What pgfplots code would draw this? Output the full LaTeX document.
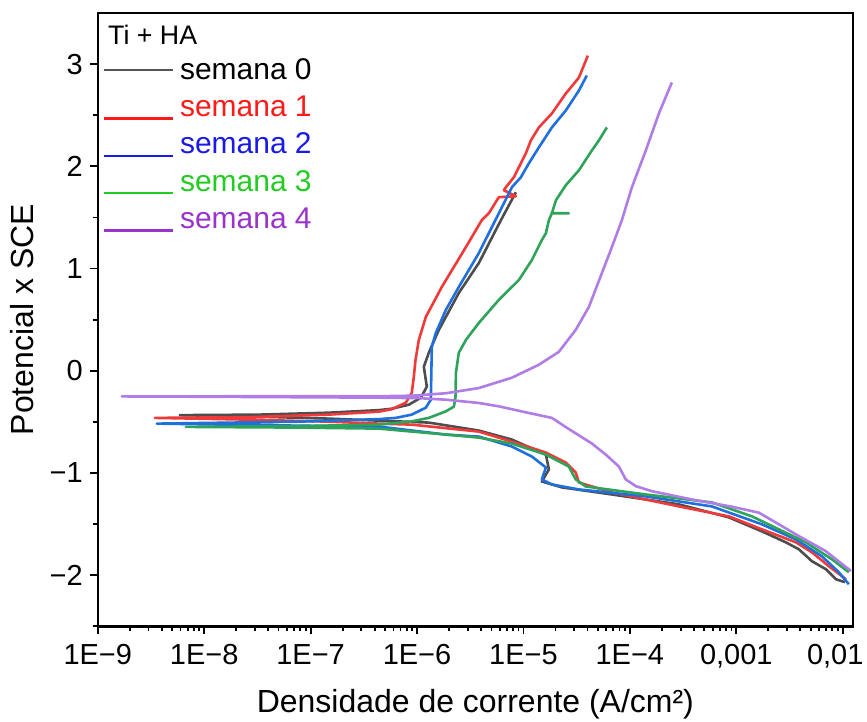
\documentclass[border=0pt]{standalone}
\usepackage{fontspec}
\setmainfont{Liberation Sans}
\usepackage{pgfplots}
\pgfplotsset{compat=1.18}
\definecolor{pc0}{HTML}{4D4D4D}
\definecolor{pc1}{HTML}{F03A3A}
\definecolor{pc2}{HTML}{1F6FDD}
\definecolor{pc3}{HTML}{2EA35A}
\definecolor{pc4}{HTML}{B07CE6}
\definecolor{lc0}{HTML}{555555}
\definecolor{lc1}{HTML}{FF1A1A}
\definecolor{lc2}{HTML}{1A1AE6}
\definecolor{lc3}{HTML}{22CC22}
\definecolor{lc4}{HTML}{9933CC}
\begin{document}
\begin{tikzpicture}
\begin{axis}[
  scale only axis, width=378pt, height=307pt,
  xmode=log, xmin=1e-9, xmax=1.25e-2, ymin=-2.5, ymax=3.5,
  xtick={1e-9,1e-8,1e-7,1e-6,1e-5,1e-4,1e-3,1e-2},
  xticklabels={1E−9,1E−8,1E−7,1E−6,1E−5,1E−4,{0,001},{\hspace*{-7.5pt}0,01}},
  minor xtick={2e-9,3e-9,4e-9,5e-9,6e-9,7e-9,8e-9,9e-9,
               2e-8,3e-8,4e-8,5e-8,6e-8,7e-8,8e-8,9e-8,
               2e-7,3e-7,4e-7,5e-7,6e-7,7e-7,8e-7,9e-7,
               2e-6,3e-6,4e-6,5e-6,6e-6,7e-6,8e-6,9e-6,
               2e-5,3e-5,4e-5,5e-5,6e-5,7e-5,8e-5,9e-5,
               2e-4,3e-4,4e-4,5e-4,6e-4,7e-4,8e-4,9e-4,
               2e-3,3e-3,4e-3,5e-3,6e-3,7e-3,8e-3,9e-3},
  ytick={-2,-1,0,1,2,3}, yticklabels={−2,−1,0,1,2,3},
  minor ytick={-2.5,-1.5,-0.5,0.5,1.5,2.5},
  tick pos=left, tick align=outside,
  major tick length=4pt, minor tick length=2.5pt,
  every tick/.style={black, line width=0.9pt},
  axis line style={line width=1.2pt},
  ticklabel style={font=\fontsize{14.5}{17}\selectfont},
  xticklabel style={inner xsep=0pt, yshift=-1.5pt},
  xlabel={Densidade de corrente (A/cm²)},
  ylabel={Potencial x SCE},
  xlabel style={at={(axis description cs:0.5,-0.09935)}, anchor=north,
    inner ysep=1pt, font=\fontsize{16}{19}\selectfont},
  ylabel style={at={(axis description cs:-0.07143,0.5)}, anchor=south,
    inner ysep=5pt, inner xsep=0pt, font=\fontsize{16}{19}\selectfont},
  legend style={draw=none, fill=none, at={(0,1)}, anchor=north west,
    xshift=2.75pt, yshift=-21pt, inner sep=0pt, row sep=3.75pt,
    font=\fontsize{15}{18}\selectfont,
    nodes={inner xsep=3.75pt, inner ysep=1.5pt}},
  legend cell align=left,
]
\addplot[color=pc0, line width=1.3pt, line join=round,
  legend image code/.code={\path[draw=none, fill=none] (0pt,0pt) -- (34.5pt,0pt);
    \draw[overlay, color=lc0, line width=1.2pt] (0pt,0pt) -- (34.5pt,0pt);}]
coordinates {
(1.049e-2,-2.068) (8.63e-3,-2.039) (6.95e-3,-1.941) (5.14e-3,-1.863) (3.873e-3,-1.746) (2.92e-3,-1.678) (1.742e-3,-1.571) (8.51e-4,-1.434) (2.89e-4,-1.307) (6.78e-5,-1.210) (2.30e-5,-1.141) (1.489e-5,-1.083) (1.734e-5,-0.966) (1.626e-5,-0.820) (7.78e-6,-0.673) (3.81e-6,-0.585) (1.29e-6,-0.507) (4.38e-7,-0.488) (1.483e-7,-0.468) (3.26e-8,-0.449) (5.90e-9,-0.434) (3.26e-8,-0.429) (1.483e-7,-0.410) (4.38e-7,-0.385) (5.79e-7,-0.371) (8.37e-7,-0.332) (1.086e-6,-0.263) (1.236e-6,-0.156) (1.159e-6,0.039) (1.29e-6,0.176) (1.603e-6,0.400) (2.47e-6,0.761) (3.81e-6,1.054) (6.14e-6,1.473) (8.49e-6,1.746)
};
\addlegendentry{semana 0}
\addplot[color=pc1, line width=1.3pt, line join=round,
  legend image code/.code={\path[draw=none, fill=none] (0pt,0pt) -- (34.5pt,0pt);
    \draw[overlay, color=lc1, line width=1.2pt] (0pt,-5.5pt) -- (34.5pt,-5.5pt);}]
coordinates {
(1.072e-2,-2.039) (7.41e-3,-1.912) (5.14e-3,-1.776) (3.63e-3,-1.678) (1.742e-3,-1.551) (8.51e-4,-1.424) (2.89e-4,-1.327) (6.78e-5,-1.190) (3.32e-5,-1.093) (3.10e-5,-0.995) (2.50e-5,-0.898) (1.626e-5,-0.800) (7.78e-6,-0.693) (3.81e-6,-0.595) (8.93e-7,-0.527) (4.38e-7,-0.517) (1.483e-7,-0.498) (2.62e-8,-0.478) (3.44e-9,-0.461) (2.62e-8,-0.454) (1.483e-7,-0.429) (4.38e-7,-0.400) (5.79e-7,-0.376) (7.85e-7,-0.312) (8.93e-7,-0.215) (9.33e-7,-0.059) (9.68e-7,0.107) (1.04e-6,0.302) (1.21e-6,0.527) (1.71e-6,0.820) (2.88e-6,1.210) (4.06e-6,1.473) (4.73e-6,1.541) (5.87e-6,1.698) (8.49e-6,1.707) (6.55e-6,1.766) (6.84e-6,1.795) (8.13e-6,1.893) (9.06e-6,1.990) (1.054e-5,2.127) (1.175e-5,2.254) (1.396e-5,2.380) (1.85e-5,2.517) (2.50e-5,2.712) (3.32e-5,2.868) (4.03e-5,3.083)
};
\addlegendentry{\textcolor{lc1}{semana 1}}
\addplot[color=pc2, line width=1.3pt, line join=round,
  legend image code/.code={\path[draw=none, fill=none] (0pt,0pt) -- (34.5pt,0pt);
    \draw[overlay, color=lc2, line width=1.2pt] (0pt,-5.5pt) -- (34.5pt,-5.5pt);}]
coordinates {
(1.143e-2,-2.088) (9.20e-3,-1.971) (6.38e-3,-1.815) (3.63e-3,-1.649) (1.742e-3,-1.502) (5.90e-4,-1.327) (1.413e-4,-1.229) (3.32e-5,-1.161) (1.85e-5,-1.112) (1.489e-5,-1.063) (1.626e-5,-0.946) (1.20e-5,-0.839) (7.78e-6,-0.741) (3.81e-6,-0.644) (1.866e-6,-0.624) (4.38e-7,-0.546) (7.74e-8,-0.537) (3.59e-9,-0.517) (7.74e-8,-0.498) (4.38e-7,-0.473) (6.32e-7,-0.461) (8.93e-7,-0.429) (1.21e-6,-0.361) (1.349e-6,-0.283) (1.377e-6,0.234) (1.503e-6,0.371) (1.866e-6,0.595) (2.47e-6,0.820) (3.81e-6,1.151) (5.05e-6,1.405) (6.27e-6,1.600) (7.78e-6,1.795) (9.46e-6,1.893) (1.124e-5,2.029) (1.396e-5,2.185) (1.85e-5,2.380) (2.50e-5,2.546) (3.32e-5,2.741) (3.94e-5,2.888)
};
\addlegendentry{\textcolor{lc2}{semana 2}}
\addplot[color=pc3, line width=1.3pt, line join=round,
  legend image code/.code={\path[draw=none, fill=none] (0pt,0pt) -- (34.5pt,0pt);
    \draw[overlay, color=lc3, line width=1.2pt] (0pt,-5.5pt) -- (34.5pt,-5.5pt);}]
coordinates {
(1.143e-2,-1.971) (7.91e-3,-1.844) (4.51e-3,-1.678) (2.512e-3,-1.551) (1.403e-3,-1.424) (5.90e-4,-1.288) (1.413e-4,-1.210) (3.85e-5,-1.132) (3.10e-5,-1.063) (2.67e-5,-0.937) (1.626e-5,-0.820) (7.78e-6,-0.712) (3.81e-6,-0.654) (1.866e-6,-0.624) (4.38e-7,-0.566) (7.74e-8,-0.556) (6.71e-9,-0.549) (7.74e-8,-0.541) (4.38e-7,-0.527) (8.93e-7,-0.495) (1.29e-6,-0.461) (1.866e-6,-0.397) (2.22e-6,-0.351) (2.30e-6,-0.254) (2.32e-6,-0.020) (2.47e-6,0.176) (2.88e-6,0.302) (3.81e-6,0.468) (5.87e-6,0.693) (9.06e-6,0.888) (1.20e-5,1.083) (1.489e-5,1.278) (1.626e-5,1.346) (1.734e-5,1.473) (1.85e-5,1.541) (2.67e-5,1.541) (1.85e-5,1.541) (2.02e-5,1.668) (2.50e-5,1.815) (3.32e-5,1.961) (4.40e-5,2.156) (5.12e-5,2.254) (6.08e-5,2.380)
};
\addlegendentry{\textcolor{lc3}{semana 3}}
\addplot[color=pc4, line width=1.3pt, line join=round,
  legend image code/.code={\path[draw=none, fill=none] (0pt,0pt) -- (34.5pt,0pt);
    \draw[overlay, color=lc4, line width=1.2pt] (0pt,-5.5pt) -- (34.5pt,-5.5pt);}]
coordinates {
(1.194e-2,-1.958) (6.90e-3,-1.763) (3.873e-3,-1.617) (2.512e-3,-1.502) (1.629e-3,-1.388) (9.10e-4,-1.330) (3.83e-4,-1.259) (1.61e-4,-1.178) (1.138e-4,-1.129) (9.16e-5,-1.063) (7.89e-5,-0.937) (5.94e-5,-0.820) (4.40e-5,-0.712) (2.50e-5,-0.551) (1.85e-5,-0.461) (1.124e-5,-0.413) (5.87e-6,-0.348) (3.81e-6,-0.315) (1.866e-6,-0.283) (1.04e-6,-0.268) (4.38e-7,-0.263) (7.74e-8,-0.259) (8.89e-9,-0.254) (1.68e-9,-0.251) (8.89e-9,-0.250) (7.74e-8,-0.249) (4.38e-7,-0.249) (8.93e-7,-0.244) (1.866e-6,-0.220) (3.81e-6,-0.169) (7.78e-6,-0.068) (1.396e-5,0.059) (2.15e-5,0.185) (3.10e-5,0.400) (4.12e-5,0.624) (5.46e-5,0.956) (6.78e-5,1.210) (8.41e-5,1.473) (1.045e-4,1.795) (1.413e-4,2.156) (1.875e-4,2.517) (2.48e-4,2.820)
};
\addlegendentry{\textcolor{lc4}{semana 4}}
\node[anchor=west, inner sep=0pt, font=\fontsize{13.4}{16}\selectfont]
  at (axis description cs:0,1) [xshift=5pt, yshift=-11pt] {Ti + HA};
\end{axis}
\path ([xshift=-48.5pt, yshift=-47pt]current axis.south west);
\path ([xshift=7pt, yshift=6.5pt]current axis.north east);
\end{tikzpicture}
\end{document}
